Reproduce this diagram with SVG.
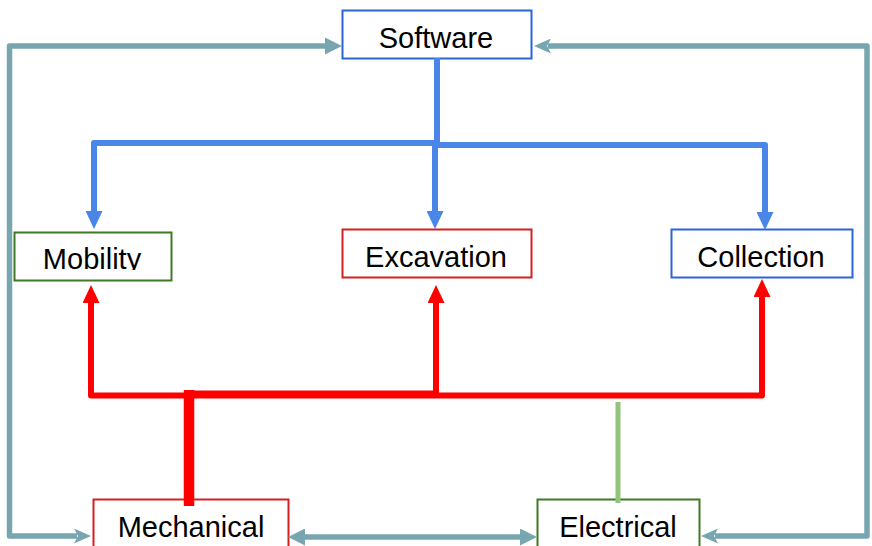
<svg xmlns="http://www.w3.org/2000/svg" width="872" height="546" viewBox="0 0 872 546">
  <style>
    .box { fill: #ffffff; stroke-width: 2; }
    .blueBox { stroke: #2a64d6; }
    .redBox { stroke: #d42020; }
    .greenBox { stroke: #3f7a22; }
    .label { font-family: "Liberation Sans", Arial, sans-serif; font-size: 29px; fill: #000000; text-anchor: middle; }
    .sw { fill: none; stroke: #4a86e8; stroke-width: 6; stroke-linejoin: round; }
    .mech { fill: none; stroke: #ff0000; stroke-linejoin: round; }
    .elec { fill: none; stroke: #93c47d; stroke-width: 5; }
    .link { fill: none; stroke: #78a6b0; stroke-width: 5.5; stroke-linejoin: round; }
  </style>
  <defs>
    <marker id="headBlue" markerUnits="userSpaceOnUse" viewBox="0 0 18 17" refX="0" refY="8.5" markerWidth="18" markerHeight="17" orient="auto">
      <path d="M0,0 L18,8.5 L0,17 z" fill="#4a86e8"/>
    </marker>
    <marker id="headRed" markerUnits="userSpaceOnUse" viewBox="0 0 18 17" refX="0" refY="8.5" markerWidth="18" markerHeight="17" orient="auto">
      <path d="M0,0 L18,8.5 L0,17 z" fill="#ff0000"/>
    </marker>
    <marker id="headTeal" markerUnits="userSpaceOnUse" viewBox="0 0 17 17" refX="0" refY="8.5" markerWidth="17" markerHeight="17" orient="auto-start-reverse">
      <path d="M0,0 L17,8.5 L0,17 z" fill="#78a6b0"/>
    </marker>
    <marker id="stealthTeal" markerUnits="userSpaceOnUse" viewBox="0 0 17 15" refX="3" refY="7.5" markerWidth="17" markerHeight="15" orient="auto-start-reverse">
      <path d="M0,0 L17,7.5 L0,15 L4,7.5 z" fill="#78a6b0"/>
    </marker>
    <clipPath id="mobilityClip">
      <rect x="15" y="233" width="155" height="37"/>
    </clipPath>
  </defs>

  <g id="software">
    <rect class="box blueBox" x="342.5" y="10.5" width="189" height="48"/>
    <text class="label" x="436" y="48">Software</text>
  </g>

  <g id="mobility">
    <rect class="box greenBox" x="14.5" y="232.5" width="157" height="48"/>
    <text class="label" x="92" y="269" clip-path="url(#mobilityClip)">Mobility</text>
  </g>

  <g id="excavation">
    <rect class="box redBox" x="342.5" y="229.5" width="189" height="48"/>
    <text class="label" x="436" y="267">Excavation</text>
  </g>

  <g id="collection">
    <rect class="box blueBox" x="671.5" y="229.5" width="181" height="48"/>
    <text class="label" x="761" y="267">Collection</text>
  </g>

  <g id="mechanical">
    <rect class="box redBox" x="93.5" y="499.5" width="195" height="60"/>
    <text class="label" x="191" y="537">Mechanical</text>
  </g>

  <g id="electrical">
    <rect class="box greenBox" x="537.5" y="499.5" width="162" height="60"/>
    <text class="label" x="618" y="537">Electrical</text>
  </g>

  <g id="connectors">
    <!-- software feeds the three subsystems -->
    <path class="sw" d="M437,58 V146"/>
    <path class="sw" d="M437,143 H94 V211" marker-end="url(#headBlue)"/>
    <path class="sw" d="M435,143 V211" marker-end="url(#headBlue)"/>
    <path class="sw" d="M437,145 H765 V212" marker-end="url(#headBlue)"/>

    <!-- mechanical feeds the three subsystems -->
    <path class="mech" stroke-width="10.5" d="M189,506 V390"/>
    <path class="mech" stroke-width="6" d="M189,395.5 H91 V303" marker-end="url(#headRed)"/>
    <path class="mech" stroke-width="8" d="M189,394.5 H436"/>
    <path class="mech" stroke-width="6" d="M436,398 V303" marker-end="url(#headRed)"/>
    <path class="mech" stroke-width="6" d="M436,395.5 H762 V297" marker-end="url(#headRed)"/>

    <!-- electrical tie to the mechanical bus -->
    <path class="elec" d="M618,402 V503"/>

    <!-- outer loops back to software -->
    <path class="link" d="M325,46 H9.5 V536 H77" marker-start="url(#headTeal)" marker-end="url(#stealthTeal)"/>
    <path class="link" d="M548,46 H867 V536 H715" marker-start="url(#stealthTeal)" marker-end="url(#stealthTeal)"/>
    <path class="link" d="M305,537 H520" marker-start="url(#headTeal)" marker-end="url(#headTeal)"/>
  </g>
</svg>
